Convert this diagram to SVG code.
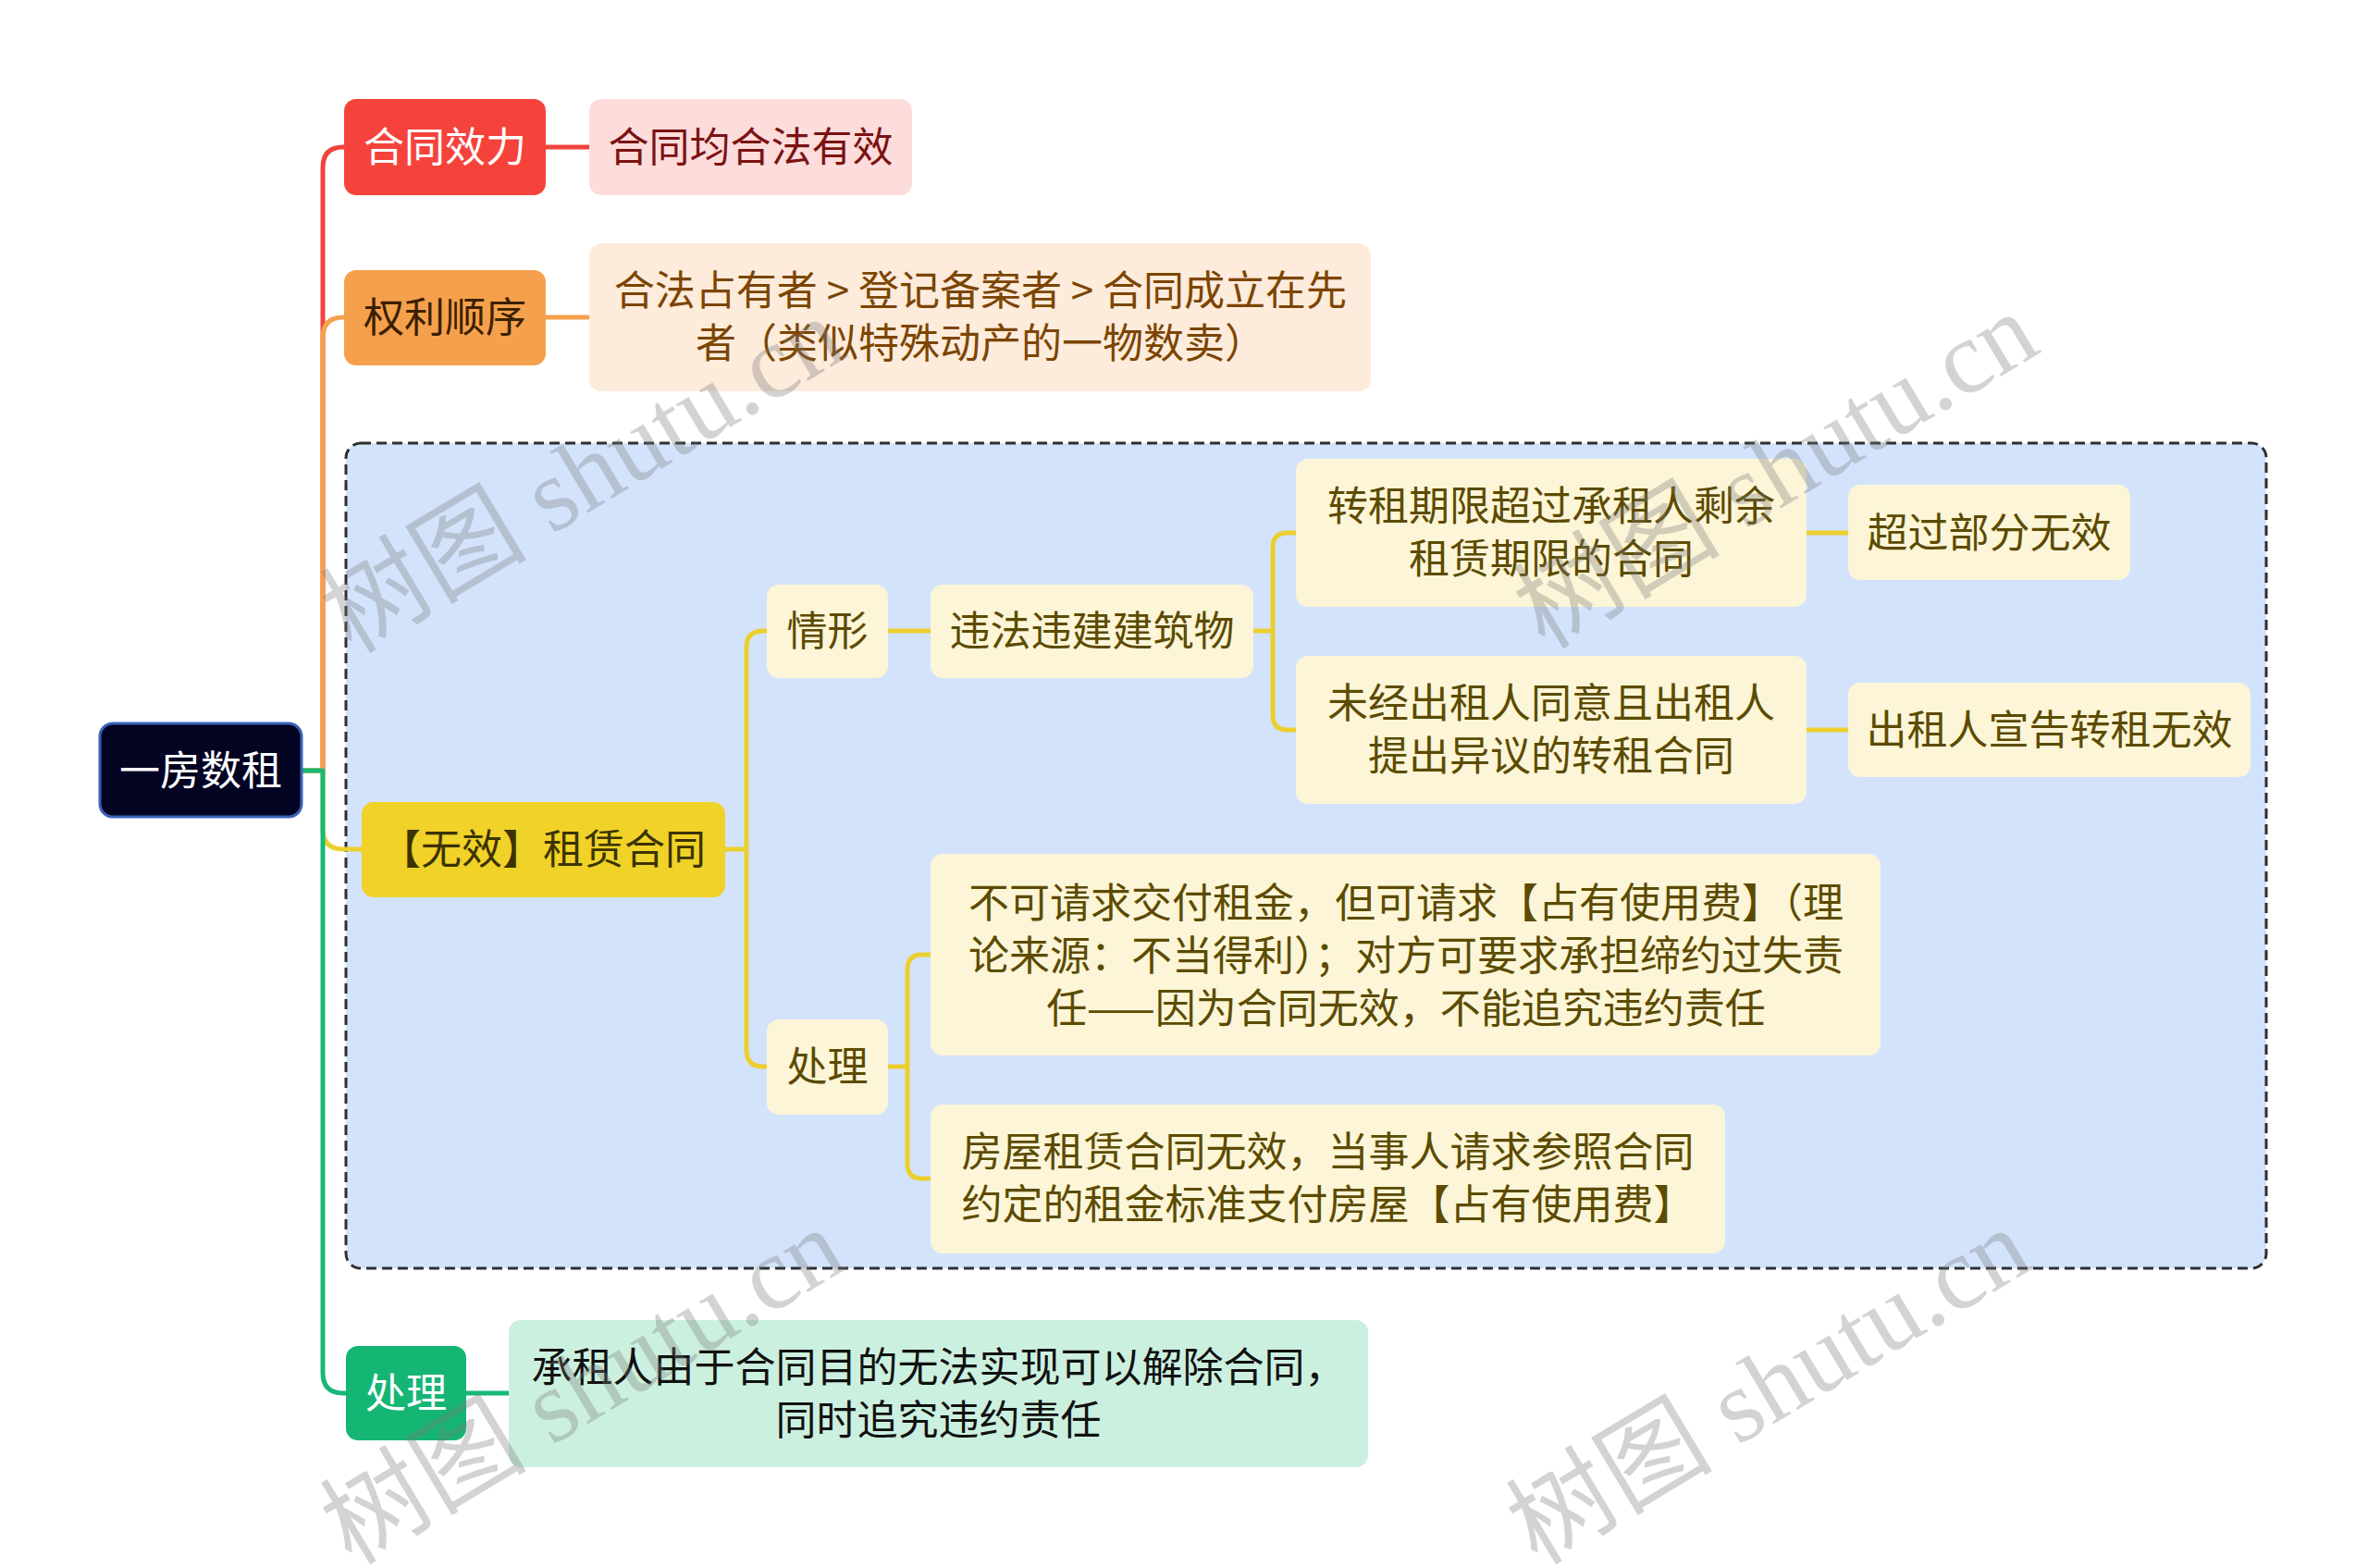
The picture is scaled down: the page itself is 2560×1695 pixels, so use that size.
<svg xmlns="http://www.w3.org/2000/svg" width="2560" height="1695" viewBox="0 0 2560 1695">
<style>
text{font-family:"Noto Sans CJK SC","Noto Sans",sans-serif;font-size:44px;text-anchor:middle}
.c{fill:none;stroke-width:5;stroke-linecap:round;stroke-linejoin:round}
.lt{fill:#fcf5d7}
.lx{fill:#5c4b00}
.wm{font-family:"Liberation Serif","Noto Sans CJK SC",serif;font-size:112px;fill:#7a7a7a;fill-opacity:0.33;text-anchor:start}
</style>
<rect width="2560" height="1695" fill="#ffffff"/>
<g id="container">
<rect x="374" y="479" width="2076" height="892" rx="16" fill="#d3e3fc" stroke="#2f2f2f" stroke-width="3" stroke-dasharray="11 6"/>
</g>
<g id="connectors">
<path class="c" stroke="#f0443c" d="M326 833H349V181Q349 159 371 159H372M590 159H637"/>
<path class="c" stroke="#f5a04c" d="M326 833H349V365Q349 343 371 343H372M590 343H637"/>
<path class="c" stroke="#eccf2f" d="M326 833H349V896Q349 918 371 918H391"/>
<path class="c" stroke="#17b878" d="M326 833H349V1484Q349 1506 371 1506H374M504 1506H550"/>
<path class="c" stroke="#eccf2f" d="M784 918H807V700Q807 682 825 682H829M807 918V1135Q807 1153 825 1153H829M960 682H1006M1355 682H1376V592Q1376 576 1392 576H1401M1376 682V773Q1376 789 1392 789H1401M1953 576H1998M1953 789H1998M960 1153H981V1048Q981 1032 997 1032H1006M981 1153V1258Q981 1274 997 1274H1006"/>
</g>
<g id="root">
<rect x="108" y="782" width="218" height="101" rx="14" fill="#030322" stroke="#3b62b8" stroke-width="3"/>
<text x="217" y="849" fill="#ffffff">一房数租</text>
</g>
<g id="n-hetong-xiaoli">
<rect x="372" y="107" width="218" height="104" rx="13" fill="#f5433c"/>
<text x="481" y="175" fill="#ffffff">合同效力</text>
</g>
<g id="n-hetong-youxiao">
<rect x="637" y="107" width="349" height="104" rx="13" fill="#fddcdc"/>
<text x="811.5" y="175" fill="#7b1212">合同均合法有效</text>
</g>
<g id="n-quanli">
<rect x="372" y="292" width="218" height="103" rx="13" fill="#f5a04c"/>
<text x="481" y="359" fill="#3a2000">权利顺序</text>
</g>
<g id="n-quanli-detail">
<rect x="637" y="263" width="845" height="160" rx="13" fill="#fdebdc"/>
<text x="1060" y="330" fill="#7c4500">合法占有者 &gt; 登记备案者 &gt; 合同成立在先</text>
<text x="1060" y="387" fill="#7c4500">者（类似特殊动产的一物数卖）</text>
</g>
<g id="n-wuxiao">
<rect x="391" y="867" width="393" height="103" rx="13" fill="#f0d229"/>
<text x="587" y="934" fill="#3b3300">【无效】租赁合同</text>
</g>
<g id="n-qingxing">
<rect class="lt" x="829" y="632" width="131" height="101" rx="13"/>
<text class="lx" x="894.5" y="698">情形</text>
</g>
<g id="n-weifa">
<rect class="lt" x="1006" y="632" width="349" height="101" rx="13"/>
<text class="lx" x="1180.5" y="698">违法违建建筑物</text>
</g>
<g id="n-zhuanzu-qixian">
<rect class="lt" x="1401" y="496" width="552" height="160" rx="13"/>
<text class="lx" x="1677" y="563">转租期限超过承租人剩余</text>
<text class="lx" x="1677" y="620">租赁期限的合同</text>
</g>
<g id="n-chaoguo">
<rect class="lt" x="1998" y="524" width="305" height="103" rx="13"/>
<text class="lx" x="2150.5" y="592">超过部分无效</text>
</g>
<g id="n-weijing">
<rect class="lt" x="1401" y="709" width="552" height="160" rx="13"/>
<text class="lx" x="1677" y="776">未经出租人同意且出租人</text>
<text class="lx" x="1677" y="833">提出异议的转租合同</text>
</g>
<g id="n-chuzuren">
<rect class="lt" x="1998" y="738" width="435" height="102" rx="13"/>
<text class="lx" x="2215.5" y="805">出租人宣告转租无效</text>
</g>
<g id="n-chuli-inner">
<rect class="lt" x="829" y="1102" width="131" height="103" rx="13"/>
<text class="lx" x="894.5" y="1169">处理</text>
</g>
<g id="n-bukeqingqiu">
<rect class="lt" x="1006" y="923" width="1027" height="218" rx="13"/>
<text class="lx" x="1520" y="992">不可请求交付租金，但可请求【占有使用费】（理</text>
<text class="lx" x="1520" y="1049">论来源：不当得利）；对方可要求承担缔约过失责</text>
<text class="lx" x="1520" y="1106">任——因为合同无效，不能追究违约责任</text>
</g>
<g id="n-fangwu">
<rect class="lt" x="1006" y="1194" width="859" height="161" rx="13"/>
<text class="lx" x="1435.5" y="1261">房屋租赁合同无效，当事人请求参照合同</text>
<text class="lx" x="1435.5" y="1318">约定的租金标准支付房屋【占有使用费】</text>
</g>
<g id="n-chuli">
<rect x="374" y="1455" width="130" height="102" rx="13" fill="#15b574"/>
<text x="439" y="1522" fill="#ffffff">处理</text>
</g>
<g id="n-chuli-detail">
<rect x="550" y="1427" width="929" height="159" rx="13" fill="#ccf0df"/>
<text x="1014.5" y="1494" fill="#111111">承租人由于合同目的无法实现可以解除合同，</text>
<text x="1014.5" y="1551" fill="#111111">同时追究违约责任</text>
</g>
<g id="watermarks">
<text class="wm" x="380" y="708" transform="rotate(-31 380 708)">树图 shutu.cn</text>
<text class="wm" x="1670" y="703" transform="rotate(-31 1670 703)">树图 shutu.cn</text>
<text class="wm" x="380" y="1693" transform="rotate(-31 380 1693)">树图 shutu.cn</text>
<text class="wm" x="1662" y="1693" transform="rotate(-31 1662 1693)">树图 shutu.cn</text>
</g>
</svg>
